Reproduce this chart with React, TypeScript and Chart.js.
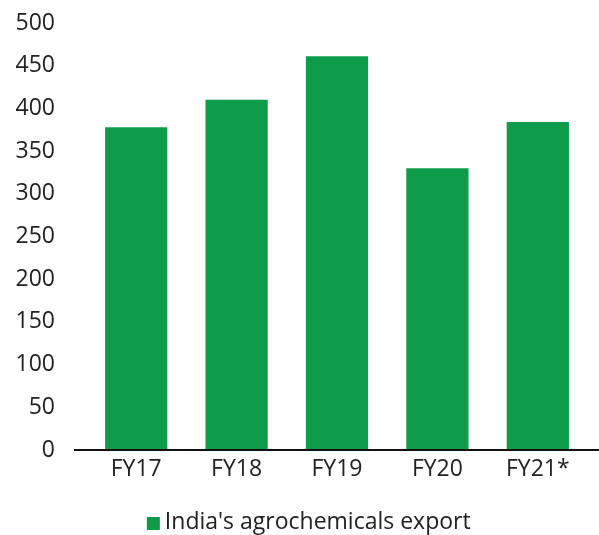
import React, { useEffect, useRef } from "react";
import { Chart, registerables } from "chart.js";

Chart.register(...registerables);

const categories = ["FY17", "FY18", "FY19", "FY20", "FY21*"];
const exportValues = [378, 410, 461, 330, 384];
const seriesLabel = "India's agrochemicals export";
const yTicks = [0, 50, 100, 150, 200, 250, 300, 350, 400, 450, 500];

const FONT = "'Open Sans', 'Noto Sans', sans-serif";
const TEXT = "#222222";
const GREEN = "#0e9c4b";
const LEGEND_FONT = 23;
const LEGEND_SHIFT_X = 18;
const LEGEND_SHIFT_Y = 9;

const axisLinePlugin = {
  id: "axisLine",
  afterDatasetsDraw(chart: any) {
    const y = chart.scales.y.getPixelForValue(0);
    const ctx = chart.ctx;
    ctx.save();
    ctx.strokeStyle = "#111111";
    ctx.lineWidth = 2;
    ctx.beginPath();
    ctx.moveTo(74, y);
    ctx.lineTo(599, y);
    ctx.stroke();
    ctx.restore();
  },
};

const legendPlacePlugin = {
  id: "legendPlace",
  afterLayout(chart: any) {
    const legend = chart.legend;
    if (!legend) return;
    legend.left += LEGEND_SHIFT_X;
    legend.right += LEGEND_SHIFT_X;
    legend.top += LEGEND_SHIFT_Y;
    legend.bottom += LEGEND_SHIFT_Y;
  },
  afterDraw(chart: any) {
    const legend = chart.legend;
    if (!legend) return;
    const ctx = chart.ctx;
    ctx.save();
    ctx.font = `${LEGEND_FONT}px ${FONT}`;
    const textW = ctx.measureText(seriesLabel).width;
    const itemW = LEGEND_FONT / 2 + textW;
    const startX = (legend.left + legend.right - itemW) / 2;
    const textStart = startX + LEGEND_FONT / 2;
    const cy = legend.top + LEGEND_FONT / 2;
    ctx.fillStyle = GREEN;
    ctx.fillRect(textStart - 18, cy - 5.5, 13, 13);
    ctx.restore();
  },
};

export default function App() {
  const ref = useRef<HTMLCanvasElement | null>(null);

  useEffect(() => {
    document.body.style.margin = "0";
    if (!ref.current) return;
    const chart = new Chart(ref.current, {
      type: "bar",
      data: {
        labels: categories,
        datasets: [
          {
            label: seriesLabel,
            data: exportValues,
            backgroundColor: GREEN,
            borderWidth: 0,
            barPercentage: 0.62,
            categoryPercentage: 1,
          },
        ],
      },
      options: {
        animation: false,
        responsive: false,
        maintainAspectRatio: false,
        layout: { padding: { top: 23, right: 11, left: 0, bottom: 0 } },
        plugins: {
          tooltip: { enabled: false },
          legend: {
            position: "bottom",
            labels: {
              boxWidth: 0,
              boxHeight: 13,
              padding: 0,
              color: TEXT,
              font: { family: FONT, size: LEGEND_FONT },
            },
          },
        },
        scales: {
          x: {
            afterFit(scale: any) {
              scale.height = 52;
            },
            grid: { display: false, drawTicks: false },
            border: { display: false },
            ticks: { color: TEXT, font: { family: FONT, size: 23 }, padding: 6 },
          },
          y: {
            min: 0,
            max: 500,
            afterBuildTicks(scale: any) {
              scale.ticks = yTicks.map((v) => ({ value: v }));
            },
            afterFit(scale: any) {
              scale.width = 86;
            },
            grid: { display: false, drawTicks: true, tickLength: 31 },
            border: { display: false },
            ticks: {
              color: TEXT,
              font: { family: FONT, size: 23 },
              padding: 0,
            },
          },
        },
      },
      plugins: [axisLinePlugin, legendPlacePlugin],
    });
    return () => chart.destroy();
  }, []);

  return (
    <div style={{ width: 599, height: 535 }}>
      <canvas ref={ref} width={599} height={535} style={{ width: 599, height: 535, display: "block" }} />
    </div>
  );
}
